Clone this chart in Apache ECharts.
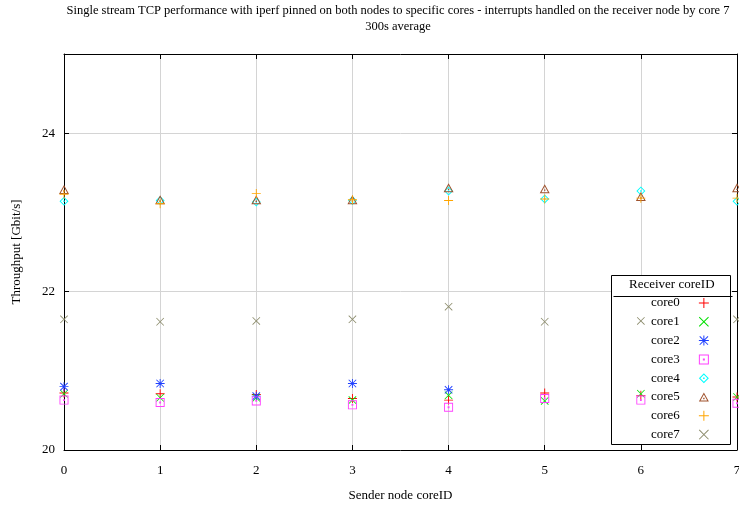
<!DOCTYPE html>
<html>
<head>
<meta charset="utf-8">
<script src="https://cdn.jsdelivr.net/npm/echarts@6/dist/echarts.min.js"></script>
<style>
html,body{margin:0;padding:0;background:#fff;}
#main{width:739px;height:508px;}
</style>
</head>
<body>
<div id="main"></div>
<script>
// ---- data ----
var titleLine1 = 'Single stream TCP performance with iperf pinned on both nodes to specific cores - interrupts handled on the receiver node by core 7';
var titleLine2 = '300s average';
var xAxisName = 'Sender node coreID';
var yAxisName = 'Throughput [Gbit/s]';
var legendTitle = 'Receiver coreID';
var senderCores = [0, 1, 2, 3, 4, 5, 6, 7];
var receiverNames = ['core0', 'core1', 'core2', 'core3', 'core4', 'core5', 'core6', 'core7'];
var core0 = [20.72, 20.71, 20.70, 20.65, 20.63, 20.72, 20.69, 20.67];
var core1 = [20.71, 20.66, 20.66, 20.63, 20.69, 20.62, 20.71, 20.67];
var core2 = [20.80, 20.84, 20.68, 20.84, 20.76, null, null, null];
var core3 = [20.63, 20.60, 20.62, 20.57, 20.54, 20.65, 20.63, 20.59];
var core4 = [23.14, 23.15, 23.13, 23.15, 23.27, 23.17, 23.27, 23.14];
var core5 = [23.29, 23.16, 23.16, 23.16, 23.31, 23.30, 23.20, 23.31];
var core6 = [23.23, 23.11, 23.24, 23.16, 23.15, 23.17, 23.18, 23.18];
var core7 = [21.65, 21.62, 21.63, 21.65, 21.81, 21.62, 21.63, 21.65];
var yTicks = [20, 22, 24];

// ---- styles ----
var seriesValues = [core0, core1, core2, core3, core4, core5, core6, core7];
var colors = ['#ff0000', '#00e000', '#2040ff', '#ff40ff', '#00ffff', '#a0522d', '#ffa500', '#8c8c6c'];
var PLUS = 'path://M4.5,0h1v10h-1z M0,4.5h10v1h-10z';
var CROSS = 'path://M0,0.7L0.7,0L10,9.3L9.3,10Z M9.3,0L10,0.7L0.7,10L0,9.3Z';
var STAR = 'path://M4.5,0h1v10h-1z M0,4.5h10v1h-10z M0.5,1.2L1.2,0.5L9.5,8.8L8.8,9.5Z M8.8,0.5L9.5,1.2L1.2,9.5L0.5,8.8Z';
var SQDOT = 'path://M0,0H10V10H0Z M1,1V9H9V1Z M4,4H6V6H4Z';
var DIADOT = 'path://M5,0L10,5L5,10L0,5Z M5,1.5L1.5,5L5,8.5L8.5,5Z M4.2,4.2H5.8V5.8H4.2Z';
var TRIDOT = 'path://M5,0L10,9L0,9Z M5,2L1.7,8L8.3,8Z M4.3,5.3H5.7V6.7H4.3Z';
var symbols = [PLUS, CROSS, STAR, SQDOT, DIADOT, TRIDOT, PLUS, CROSS];
var sizes = [[9,9],[8,8],[9,9],[9,9],[9,9],[10,9],[9,9],[8,8]];

var FONT = 'Liberation Serif';

var series = receiverNames.map(function (name, i) {
  return {
    name: name,
    type: 'scatter',
    z: 5,
    symbol: symbols[i],
    symbolSize: sizes[i],
    itemStyle: { color: colors[i], opacity: 1 },
    emphasis: { disabled: true },
    data: senderCores.map(function (x, j) { return [x, seriesValues[i][j]]; })
      .filter(function (p) { return p[1] !== null; })
  };
});

var chart = echarts.init(document.getElementById('main'), null, { renderer: 'canvas' });
chart.setOption({
  animation: false,
  backgroundColor: '#ffffff',
  textStyle: { fontFamily: FONT },
  grid: { left: 64, right: 2, top: 54, bottom: 58, containLabel: false, outerBoundsMode: 'none' },
  xAxis: [{
    type: 'value', min: 0, max: 7, interval: 1,
    name: xAxisName, nameLocation: 'middle', nameGap: 39,
    nameTextStyle: { fontFamily: FONT, fontSize: 13, color: '#000' },
    axisLine: { show: true, onZero: false, lineStyle: { color: '#000', width: 1 } },
    axisTick: { show: true, inside: true, length: 5, lineStyle: { color: '#000' } },
    axisLabel: { fontFamily: FONT, fontSize: 13, color: '#000', margin: 14 },
    splitLine: { show: true, lineStyle: { color: '#d4d4d4', width: 1 } }
  }, {
    type: 'value', min: 0, max: 7, interval: 1, position: 'top',
    axisLine: { show: true, onZero: false, lineStyle: { color: '#000', width: 1 } },
    axisTick: { show: true, inside: true, length: 5, lineStyle: { color: '#000' } },
    axisLabel: { show: false },
    splitLine: { show: false }
  }],
  yAxis: [{
    type: 'value', min: 20, max: 25, interval: 2,
    name: yAxisName, nameLocation: 'middle', nameGap: 41,
    nameTextStyle: { fontFamily: FONT, fontSize: 13, color: '#000' },
    axisLine: { show: true, onZero: false, lineStyle: { color: '#000', width: 1 } },
    axisTick: { show: true, inside: true, length: 5, lineStyle: { color: '#000' } },
    axisLabel: { fontFamily: FONT, fontSize: 13, color: '#000', margin: 9, showMaxLabel: false,
      formatter: function (v) { return yTicks.indexOf(v) >= 0 ? String(v) : ''; } },
    splitLine: { show: true, lineStyle: { color: '#d4d4d4', width: 1 } }
  }, {
    type: 'value', min: 20, max: 25, interval: 2, position: 'right',
    axisLine: { show: true, onZero: false, lineStyle: { color: '#000', width: 1 } },
    axisTick: { show: true, inside: true, length: 5, lineStyle: { color: '#000' } },
    axisLabel: { show: false },
    splitLine: { show: false }
  }],
  legend: {
    data: receiverNames,
    orient: 'vertical',
    left: 611,
    top: 275,
    z: 3,
    align: 'right',
    padding: [18.6, 18, 1, 40],
    itemGap: 0,
    itemWidth: 10,
    itemHeight: 10,
    selectedMode: false,
    textStyle: { fontFamily: FONT, fontSize: 13, color: '#000', lineHeight: 18.8, padding: [0, 14, 0, 0] }
  },
  graphic: [
    { type: 'text', z: 2, x: 398, y: 11,
      style: { text: titleLine1, font: '12.5px "Liberation Serif"', fill: '#000', textAlign: 'center', textVerticalAlign: 'middle' } },
    { type: 'text', z: 2, x: 398, y: 27,
      style: { text: titleLine2, font: '12.5px "Liberation Serif"', fill: '#000', textAlign: 'center', textVerticalAlign: 'middle' } },
    { type: 'rect', left: 611, top: 275, z: 1,
      shape: { x: 0, y: 0, width: 119, height: 169 },
      style: { fill: '#fff', stroke: '#000', lineWidth: 1 } },
    { type: 'line', z: 2, left: 611, top: 294,
      shape: { x1: 0, y1: 0, x2: 119, y2: 0 },
      style: { stroke: '#000', lineWidth: 1 } },
    { type: 'text', z: 2, left: 629, top: 278,
      style: { text: legendTitle, font: '13px "Liberation Serif"', fill: '#000' } }
  ],
  series: series
});
</script>
</body>
</html>
